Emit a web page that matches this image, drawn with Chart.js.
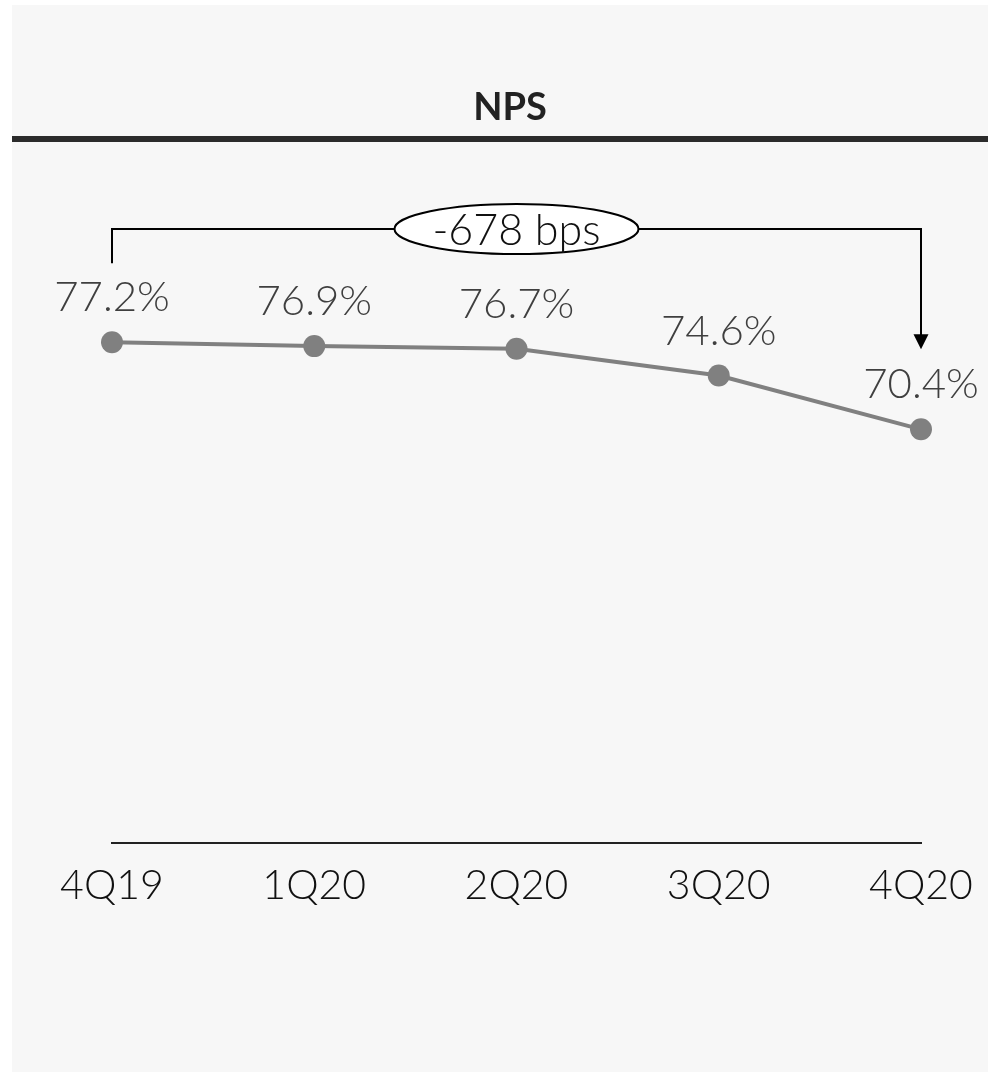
<!DOCTYPE html>
<html>
<head>
<meta charset="utf-8">
<script src="https://cdn.jsdelivr.net/npm/chart.js@4"></script>
<style>
  body { margin: 0; background: #fff; }
  canvas { display: block; }
</style>
</head>
<body>
<canvas id="npsChart" width="988" height="1072"></canvas>
<script>
const quarters = ['4Q19', '1Q20', '2Q20', '3Q20', '4Q20'];
const npsValues = [77.2, 76.9, 76.7, 74.6, 70.4];
const titleText = 'NPS';
const changeText = '-678 bps';

const FONT = 'Lato, "Open Sans", sans-serif';

// panel background, title and the heavy rule under it
const panelPlugin = {
  id: 'panel',
  beforeDraw(chart) {
    const ctx = chart.ctx;
    ctx.save();
    ctx.fillStyle = '#f7f7f7';
    ctx.fillRect(12, 5, chart.width - 12, chart.height - 5);
    ctx.fillStyle = '#2b2b2b';
    ctx.fillRect(12, 136, chart.width - 12, 6);
    ctx.fillStyle = '#222';
    ctx.font = 'bold 38px ' + FONT;
    ctx.textAlign = 'center';
    ctx.textBaseline = 'alphabetic';
    ctx.fillText(titleText, 510, 120);
    ctx.restore();
  }
};

// value labels above points + bracket with the change bubble
const labelPlugin = {
  id: 'labels',
  afterDatasetsDraw(chart) {
    const ctx = chart.ctx;
    const pts = chart.getDatasetMeta(0).data;
    ctx.save();
    ctx.font = '300 42px ' + FONT;
    ctx.fillStyle = '#3f3f3f';
    ctx.textAlign = 'center';
    ctx.textBaseline = 'alphabetic';
    pts.forEach((p, i) => {
      ctx.fillText(npsValues[i].toFixed(1) + '%', p.x, p.y - 31);
    });

    const first = pts[0], last = pts[pts.length - 1];
    const top = 229;
    ctx.strokeStyle = '#000';
    ctx.lineWidth = 2;
    ctx.beginPath();
    ctx.moveTo(first.x, first.y - 79);
    ctx.lineTo(first.x, top);
    ctx.lineTo(last.x, top);
    ctx.lineTo(last.x, last.y - 94);
    ctx.stroke();
    // arrow head
    ctx.fillStyle = '#000';
    ctx.beginPath();
    ctx.moveTo(last.x - 7.5, last.y - 95);
    ctx.lineTo(last.x + 7.5, last.y - 95);
    ctx.lineTo(last.x, last.y - 80);
    ctx.closePath();
    ctx.fill();

    // bubble
    const cx = (first.x + last.x) / 2;
    ctx.beginPath();
    ctx.ellipse(cx, top, 122, 25, 0, 0, Math.PI * 2);
    ctx.fillStyle = '#fff';
    ctx.fill();
    ctx.stroke();
    ctx.fillStyle = '#111';
    ctx.font = '300 43px ' + FONT;
    ctx.textBaseline = 'middle';
    ctx.fillText(changeText, cx, top + 2);
    ctx.restore();
  }
};

new Chart(document.getElementById('npsChart').getContext('2d'), {
  type: 'line',
  data: {
    labels: quarters,
    datasets: [{
      data: npsValues,
      borderColor: '#808080',
      borderWidth: 4,
      pointBackgroundColor: '#808080',
      pointBorderColor: '#808080',
      pointRadius: 11,
      pointBorderWidth: 0,
      tension: 0,
      fill: false,
      clip: false
    }]
  },
  options: {
    responsive: false,
    animation: false,
    devicePixelRatio: 1,
    layout: {padding: {left: 112, right: 67, top: 204, bottom: 144}},
    plugins: {legend: {display: false}, tooltip: {enabled: false}, title: {display: false}},
    scales: {
      x: {
        offset: false,
        grid: {display: false, drawTicks: false},
        border: {display: true, color: '#222', width: 2},
        ticks: {color: '#111', padding: 18, font: {family: FONT, size: 41, weight: 300}},
        afterFit(scale) { scale.paddingLeft = 0; scale.paddingRight = 0; }
      },
      y: {display: false, min: 38.1, max: 88}
    }
  },
  plugins: [panelPlugin, labelPlugin]
});
</script>
</body>
</html>
